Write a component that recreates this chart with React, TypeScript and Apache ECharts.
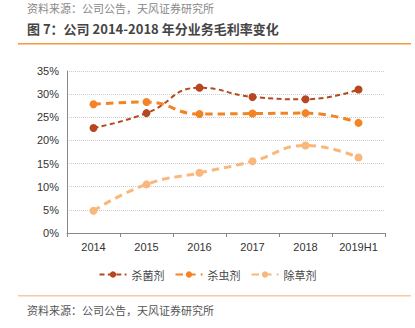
import React, { useEffect, useRef } from "react";
import * as echarts from "echarts";

const categories = ["2014", "2015", "2016", "2017", "2018", "2019H1"];
const fungicide = [22.7, 25.9, 31.4, 29.4, 28.9, 31.0];
const insecticide = [27.8, 28.3, 25.7, 25.8, 25.9, 23.8];
const herbicide = [4.8, 10.5, 13.0, 15.5, 18.9, 16.3];
const seriesNames = ["杀菌剂", "杀虫剂", "除草剂"];
const colors = ["#B5481F", "#F38425", "#F9B77B"];

export default function App() {
  const ref = useRef<HTMLDivElement>(null);
  useEffect(() => {
    const chart = echarts.init(ref.current!, null, { renderer: "svg" });
    const font = "'Noto Sans CJK SC', 'Liberation Sans', sans-serif";
    const mk = (name: string, data: number[], color: string, width: number) => ({
      name,
      type: "line",
      data,
      smooth: true,
      symbol: "circle",
      symbolSize: 8,
      itemStyle: { color },
      lineStyle: { color, width, type: [width * 2.5, width * 1.7] },
    });
    chart.setOption({
      animation: false,
      textStyle: { fontFamily: font },
      grid: { left: 67, right: 30, top: 71, bottom: 95 },
      xAxis: {
        type: "category",
        data: categories,
        boundaryGap: true,
        axisLine: { lineStyle: { color: "#888", width: 1 } },
        axisTick: { show: true, lineStyle: { color: "#888" }, length: 4 },
        axisLabel: { color: "#333", fontSize: 11, margin: 8, fontFamily: "'Liberation Sans', sans-serif" },
      },
      yAxis: {
        type: "value",
        min: 0,
        max: 35,
        interval: 5,
        axisLine: { show: true, lineStyle: { color: "#888" } },
        axisTick: { show: false },
        axisLabel: { formatter: "{value}%", color: "#333", fontSize: 11, margin: 8, fontFamily: "'Liberation Sans', sans-serif" },
        splitLine: { lineStyle: { color: "#ccc", type: "dotted", width: 1 } },
      },
      legend: {
        data: seriesNames,
        top: 264,
        left: "center",
        itemWidth: 27,
        itemHeight: 8,
        itemGap: 10,
        textStyle: { color: "#444", fontSize: 11, fontFamily: font },
      },
      series: [
        mk(seriesNames[0], fungicide, colors[0], 2),
        mk(seriesNames[1], insecticide, colors[1], 3),
        mk(seriesNames[2], herbicide, colors[2], 3),
      ],
      graphic: [
        { type: "text", left: 27, top: 2, style: { text: "资料来源：公司公告，天风证券研究所", fill: "#888", font: `11px ${font}` } },
        { type: "text", left: 27, top: 22, style: { text: "图 7：公司 2014-2018 年分业务毛利率变化", fill: "#444", font: `bold 13px ${font}` } },
        { type: "rect", shape: { x: 18, y: 43, width: 393, height: 1.5 }, style: { fill: "#F39A3C" } },
        { type: "rect", shape: { x: 18, y: 295, width: 393, height: 1.5 }, style: { fill: "#F9C8A0" } },
        { type: "text", left: 27, top: 304, style: { text: "资料来源：公司公告，天风证券研究所", fill: "#555", font: `11px ${font}` } },
      ],
    });
    return () => chart.dispose();
  }, []);
  return <div ref={ref} style={{ width: 415, height: 328, position: "absolute", left: 0, top: 0 }} />;
}
